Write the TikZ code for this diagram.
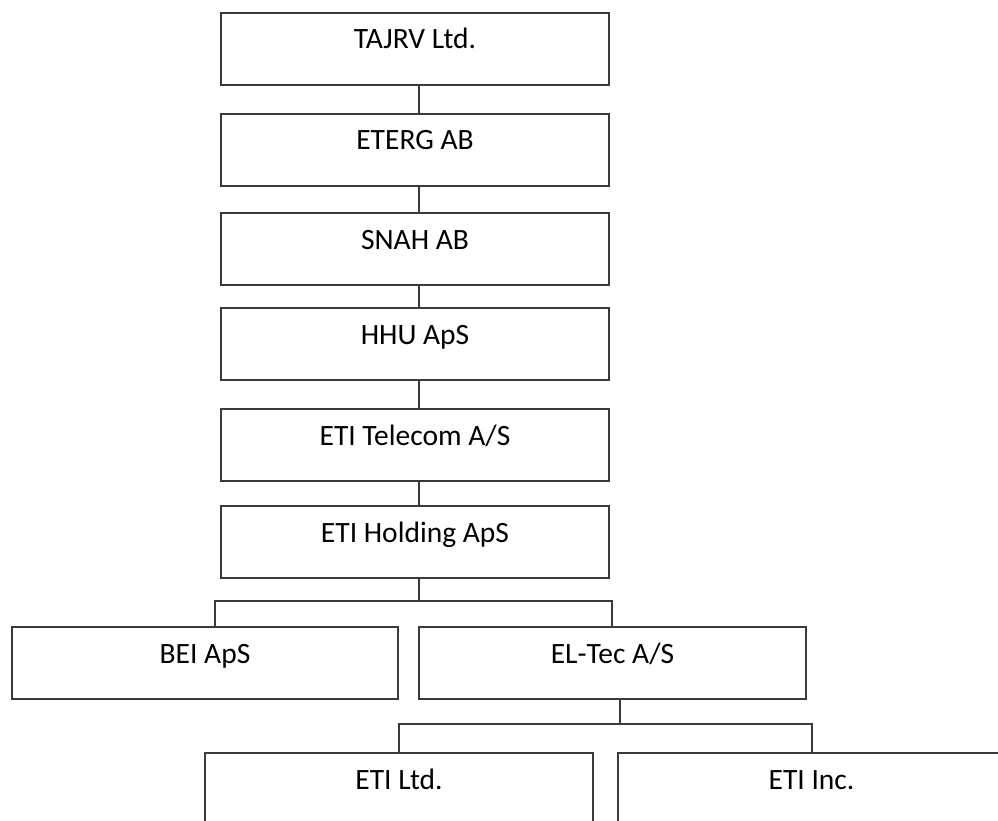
\documentclass[tikz,border=0pt]{standalone}
\usepackage{fontspec}
\setmainfont{Carlito}
\begin{document}
\begin{tikzpicture}[x=1pt, y=-1pt,
  company/.style={draw=linegray, line width=2pt, fill=white, rectangle,
    anchor=north, minimum height=72pt, inner xsep=0pt, inner ysep=0pt,
    text height=36pt, text depth=36pt, text=black,
    font=\fontsize{29.5}{34}\selectfont},
  link/.style={draw=linegray, line width=2pt, line join=miter}]
\definecolor{linegray}{HTML}{3A3A3A}
\useasboundingbox (0,0) rectangle (998,821);
\clip (0,0) rectangle (998,821);

% ownership chain
\node[company, minimum width=388pt] (tajrv)   at (415,12)  {TAJRV Ltd.};
\node[company, minimum width=388pt] (eterg)   at (415,113) {ETERG AB};
\node[company, minimum width=388pt] (snah)    at (415,212) {SNAH AB};
\node[company, minimum width=388pt] (hhu)     at (415,307) {HHU ApS};
\node[company, minimum width=388pt] (telecom) at (415,408) {ETI Telecom A/S};
\node[company, minimum width=388pt] (holding) at (415,505) {ETI Holding ApS};

% subsidiaries
\node[company, minimum width=386pt] (bei)    at (205,626)   {BEI ApS};
\node[company, minimum width=387pt] (eltec)  at (612.5,626) {EL-Tec A/S};
\node[company, minimum width=388pt] (etiltd) at (399,752)   {ETI Ltd.};
\node[company, minimum width=387pt] (etiinc) at (811.5,752) {ETI Inc.};

% connector guide points
\coordinate (spine) at (419,0);
\coordinate (j1)  at (419,601);
\coordinate (j1l) at (215,601);
\coordinate (j1r) at (612,601);
\coordinate (j2)  at (620,724);
\coordinate (j2l) at (399,724);
\coordinate (j2r) at (812,724);

\draw[link] (tajrv.south -| spine)   -- (eterg.north -| spine);
\draw[link] (eterg.south -| spine)   -- (snah.north -| spine);
\draw[link] (snah.south -| spine)    -- (hhu.north -| spine);
\draw[link] (hhu.south -| spine)     -- (telecom.north -| spine);
\draw[link] (telecom.south -| spine) -- (holding.north -| spine);

\draw[link] (holding.south -| j1) -- (j1);
\draw[link] (bei.north -| j1l) -- (j1l) -- (j1r) -- (eltec.north -| j1r);

\draw[link] (eltec.south -| j2) -- (j2);
\draw[link] (etiltd.north -| j2l) -- (j2l) -- (j2r) -- (etiinc.north -| j2r);
\end{tikzpicture}
\end{document}
